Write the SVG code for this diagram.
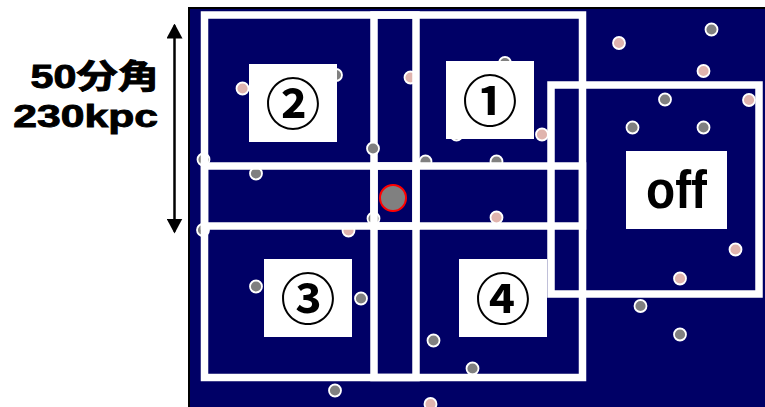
<svg xmlns="http://www.w3.org/2000/svg" width="765" height="407" viewBox="0 0 765 407">
<defs>
<style>
.frame{fill:none;stroke:#ffffff;stroke-width:7.5}
.dot{stroke:#ffffff;stroke-width:1.8}
.g{fill:#808080}
.p{fill:#e0b4ae}
.box{fill:#ffffff}
.num{font-family:"Noto Sans CJK JP","Noto Sans CJK SC",sans-serif;font-size:55px;font-weight:bold;text-anchor:middle;fill:#000000}
.lab{font-family:"Liberation Sans","Noto Sans CJK JP",sans-serif;font-weight:bold;fill:#000000}
.scale{stroke:#000000;stroke-width:0.9}
</style>
<marker id="ah" markerUnits="userSpaceOnUse" viewBox="0 0 15 16" markerWidth="15" markerHeight="16" refX="13" refY="8" orient="auto-start-reverse">
<path d="M0,0 L15,8 L0,16 z" fill="#000000"/>
</marker>
</defs>

<g id="field">
<rect x="189" y="8" width="600" height="420" fill="#000066" stroke="#000000" stroke-width="2"/>
</g>

<g id="region1-frame">
<rect class="frame" x="374" y="15" width="208.5" height="211"/>
</g>

<g id="galaxies">
<circle class="dot p" cx="619" cy="43" r="6"/>
<circle class="dot g" cx="711.5" cy="29.5" r="6"/>
<circle class="dot p" cx="703.5" cy="71" r="6"/>
<circle class="dot g" cx="665" cy="99.5" r="6"/>
<circle class="dot p" cx="749" cy="100" r="6"/>
<circle class="dot g" cx="632.5" cy="127.5" r="6"/>
<circle class="dot g" cx="703.5" cy="127.5" r="6"/>
<circle class="dot p" cx="242.5" cy="88.5" r="6"/>
<circle class="dot g" cx="336" cy="75" r="6"/>
<circle class="dot p" cx="410.5" cy="77.5" r="6"/>
<circle class="dot g" cx="505" cy="63" r="6"/>
<circle class="dot p" cx="542" cy="134.5" r="6"/>
<circle class="dot g" cx="456.5" cy="134.5" r="6"/>
<circle class="dot g" cx="373" cy="148.5" r="6"/>
<circle class="dot g" cx="203.5" cy="159.5" r="6"/>
<circle class="dot g" cx="256" cy="173.5" r="6"/>
<circle class="dot g" cx="425.5" cy="161.5" r="6"/>
<circle class="dot g" cx="496.5" cy="161.5" r="6"/>
<circle class="dot g" cx="203" cy="230" r="6"/>
<circle class="dot p" cx="348.5" cy="230.5" r="6"/>
<circle class="dot g" cx="373.5" cy="218.5" r="6"/>
<circle class="dot p" cx="496.5" cy="217.5" r="6"/>
<circle class="dot p" cx="735.5" cy="249.5" r="6"/>
<circle class="dot p" cx="680" cy="278.5" r="6"/>
<circle class="dot g" cx="256" cy="286.5" r="6"/>
<circle class="dot g" cx="361" cy="298.5" r="6"/>
<circle class="dot g" cx="640.5" cy="306" r="6"/>
<circle class="dot g" cx="680" cy="334.5" r="6"/>
<circle class="dot g" cx="433.5" cy="340.5" r="6"/>
<circle class="dot g" cx="472.5" cy="368.5" r="6"/>
<circle class="dot g" cx="335" cy="390.5" r="6"/>
<circle class="dot p" cx="430.5" cy="404" r="6"/>
</g>

<g id="region2-frame">
<rect class="frame" x="204.5" y="15" width="211.5" height="211"/>
</g>
<g id="region3-frame">
<rect class="frame" x="204.5" y="166" width="211.5" height="211.5"/>
</g>
<g id="region4-frame">
<rect class="frame" x="374" y="166" width="208.5" height="211.5"/>
</g>
<g id="off-frame">
<rect class="frame" x="551" y="85" width="208" height="209"/>
</g>

<g id="target">
<circle cx="393" cy="198" r="13" fill="#808080" stroke="#ff0000" stroke-width="2"/>
</g>

<g id="label2">
<rect class="box" x="249" y="64" width="88" height="78"/>
<text class="num" x="293" y="124">②</text>
</g>
<g id="label1">
<rect class="box" x="446" y="61" width="88" height="78"/>
<text class="num" x="490" y="121">①</text>
</g>
<g id="label3">
<rect class="box" x="264" y="259" width="88" height="78"/>
<text class="num" x="308" y="319">③</text>
</g>
<g id="label4">
<rect class="box" x="459" y="259" width="88" height="78"/>
<text class="num" x="503" y="319">④</text>
</g>
<g id="label-off">
<rect class="box" x="626" y="151" width="101" height="78"/>
<text class="lab" x="676.5" y="208" font-size="53" text-anchor="middle" textLength="61" lengthAdjust="spacingAndGlyphs">off</text>
</g>

<g id="connectors">
<line x1="174.5" y1="25.5" x2="174.5" y2="231.5" stroke="#000000" stroke-width="2.5" marker-start="url(#ah)" marker-end="url(#ah)"/>
</g>

<g id="scale-label">
<text class="lab scale" x="30.6" y="87.5" font-size="32.5" textLength="128.3" lengthAdjust="spacingAndGlyphs">50分角</text>
<text class="lab scale" x="13.3" y="127" font-size="32" textLength="144.7" lengthAdjust="spacingAndGlyphs">230kpc</text>
</g>
</svg>
